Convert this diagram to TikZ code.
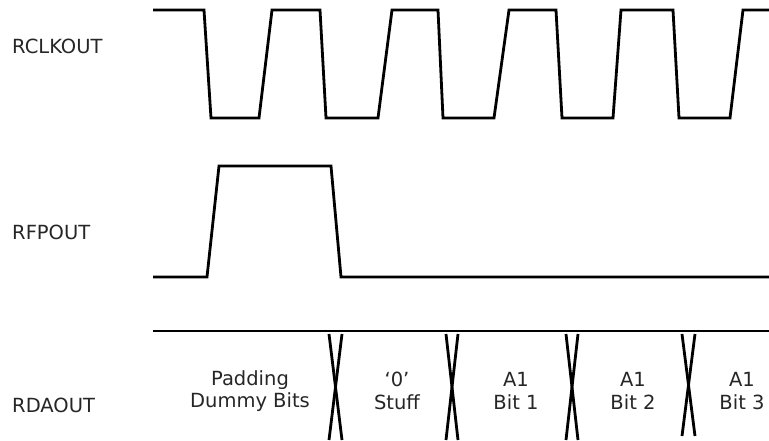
\documentclass[tikz,border=0pt]{standalone}
\usepackage{fontspec}
\setmainfont{DejaVu Sans}
\begin{document}
\begin{tikzpicture}[x=1pt,y=-1pt,
  wave/.style={line width=2.8pt,line join=miter,black},
  sig/.style={anchor=west,inner sep=0pt,text=black!85,font=\fontsize{19.5}{22.5}\selectfont},
  cell/.style={align=center,inner sep=0pt,text=black!85,font=\fontsize{19.5}{22.5}\selectfont}]
\useasboundingbox (0,0) rectangle (769,440);
% labels
\node[sig] (rclk) at (12,46) {RCLKOUT};
\node[sig] (rfp) at (12,232) {RFPOUT};
\node[sig] (rda) at (12,405) {RDAOUT};
% RCLKOUT
\draw[wave] (153,10) -- (204,10) -- (211,118) -- (259,118) -- (272,10) -- (320,10) -- (326,118)
  -- (378,118) -- (392,10) -- (438,10) -- (443,118) -- (494,118) -- (509,10) -- (556,10)
  -- (562,118) -- (613,118) -- (621,10) -- (673,10) -- (679,118) -- (730,118) -- (743,10) -- (769,10);
% RFPOUT
\draw[wave] (153,277) -- (207,277) -- (219,166) -- (331,166) -- (341,277) -- (769,277);
% RDAOUT
\draw[wave] (153,331) -- (769,331);
\foreach \a/\b/\yb in {329/342/440,446/458/440,566/578/440,682/695/436}{
  \draw[wave] (\a,334) -- (\b,\yb);
  \draw[wave] (\b,334) -- (\a,\yb);
}
\node[cell] (c1) at (250,391) {Padding\\Dummy Bits};
\node[cell] (c2) at (397,391) {‘0’\\Stuff};
\node[cell] (c3) at (516,391) {A1\\Bit 1};
\node[cell] (c4) at (633,391) {A1\\Bit 2};
\node[cell] (c5) at (742,391) {A1\\Bit 3};
\end{tikzpicture}
\end{document}
